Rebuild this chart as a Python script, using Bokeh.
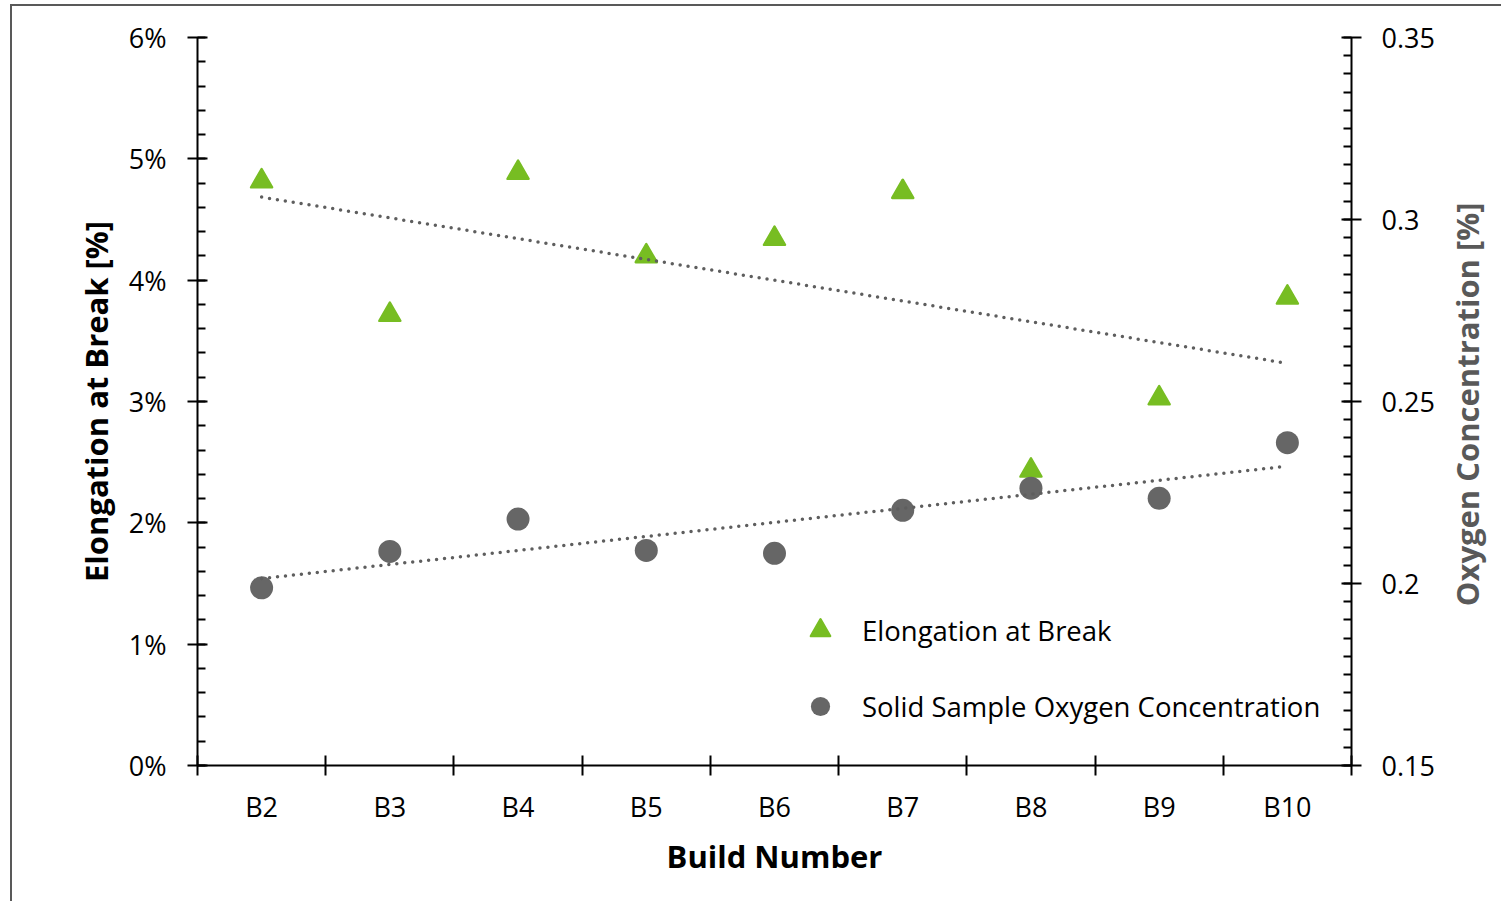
import math
import numpy as np
from bokeh.plotting import figure
from bokeh.layouts import row
from bokeh.models import (Range1d, LinearAxis, FixedTicker, CustomJSTickFormatter,
                          Legend, LegendItem)
from bokeh.core.properties import value
from bokeh.embed import file_html
from bokeh.resources import INLINE

# ---- data ----
builds = ["B2", "B3", "B4", "B5", "B6", "B7", "B8", "B9", "B10"]
elongation_pct = [4.815, 3.715, 4.885, 4.198, 4.341, 4.728, 2.431, 3.027, 3.857]
oxygen_conc = [0.1988, 0.2088, 0.2177, 0.2091, 0.2083, 0.2201, 0.2262, 0.2234, 0.2387]
left_ticks = [0, 1, 2, 3, 4, 5, 6]
right_ticks = [0.15, 0.20, 0.25, 0.30, 0.35]

GREEN = "#77BD22"
GREY = "#666666"
TREND = "#5E5E5E"
FONT = "Open Sans"

xpos = list(range(1, len(builds) + 1))

FRAME_W, FRAME_H = 1154, 728
BL, BR, BT, BB = 185, 92, 31, 136
CANVAS_H = BT + FRAME_H + BB

p = figure(frame_width=FRAME_W, frame_height=FRAME_H,
           x_range=Range1d(0.5, len(builds) + 0.5),
           y_range=Range1d(left_ticks[0], left_ticks[-1]),
           output_backend="svg", toolbar_location=None,
           min_border_left=BL, min_border_right=BR,
           min_border_top=BT, min_border_bottom=BB)
p.extra_y_ranges = {"oxy": Range1d(right_ticks[0], right_ticks[-1])}
p.grid.visible = False
p.outline_line_color = None
p.background_fill_color = "white"
p.border_fill_color = "white"

# ---- x axis ----
xa = p.xaxis[0]
xa.ticker = FixedTicker(ticks=xpos, minor_ticks=[i + 0.5 for i in range(0, len(builds) + 1)])
xa.formatter = CustomJSTickFormatter(args=dict(labels=builds),
                                     code="const i = Math.round(tick) - 1; return (i >= 0 && i < labels.length) ? labels[i] : '';")
xa.major_tick_in = 0
xa.major_tick_out = 0
xa.minor_tick_in = 10
xa.minor_tick_out = 10
xa.minor_tick_line_color = "black"
xa.minor_tick_line_width = 2
xa.axis_line_width = 2
xa.axis_line_color = "black"
xa.major_label_standoff = 12
xa.major_label_text_font = FONT
xa.major_label_text_font_size = "27px"
xa.major_label_text_color = "black"
xa.axis_label = "Build Number"
xa.axis_label_text_font = FONT
xa.axis_label_text_font_size = "31px"
xa.axis_label_text_font_style = "bold"
xa.axis_label_text_color = "black"
xa.axis_label_standoff = 7

# ---- left axis ----
ya = p.yaxis[0]
ya.ticker = FixedTicker(ticks=left_ticks,
                        minor_ticks=list(np.round(np.arange(left_ticks[0], left_ticks[-1] + 1e-9, 0.2), 4)))
ya.formatter = CustomJSTickFormatter(code="return tick.toFixed(0) + '%';")
ya.major_tick_in = 10
ya.major_tick_out = 10
ya.minor_tick_in = 8
ya.minor_tick_out = 0
ya.major_tick_line_width = 2
ya.minor_tick_line_width = 2
ya.major_tick_line_color = "black"
ya.minor_tick_line_color = "black"
ya.axis_line_width = 2
ya.axis_line_color = "black"
ya.major_label_standoff = 21
ya.major_label_text_font = FONT
ya.major_label_text_font_size = "27px"
ya.major_label_text_color = "black"
ya.axis_label = "Elongation at Break [%]"
ya.axis_label_text_font = FONT
ya.axis_label_text_font_size = "31px"
ya.axis_label_text_font_style = "bold"
ya.axis_label_text_color = "black"
ya.axis_label_standoff = 9

# ---- right axis ----
ra = LinearAxis(y_range_name="oxy")
ra.ticker = FixedTicker(ticks=right_ticks,
                        minor_ticks=list(np.round(np.arange(right_ticks[0], right_ticks[-1] + 1e-9, 0.005), 4)))
ra.formatter = CustomJSTickFormatter(code="return String(Math.round(tick * 100) / 100);")
ra.major_tick_in = 10
ra.major_tick_out = 10
ra.minor_tick_in = 8
ra.minor_tick_out = 0
ra.major_tick_line_width = 2
ra.minor_tick_line_width = 2
ra.major_tick_line_color = "black"
ra.minor_tick_line_color = "black"
ra.axis_line_width = 2
ra.axis_line_color = "black"
ra.major_label_standoff = 20
ra.major_label_text_font = FONT
ra.major_label_text_font_size = "27px"
ra.major_label_text_color = "black"
p.add_layout(ra, "right")

# ---- markers ----
tri = p.scatter(xpos, elongation_pct, marker="triangle", size=21,
                fill_color=GREEN, line_color=GREEN, line_width=2.5, line_join="round")
circ = p.scatter(xpos, oxygen_conc, marker="circle", size=23, y_range_name="oxy",
                 fill_color=GREY, line_color=GREY, line_width=0)

# ---- linear trend lines (least squares on the data) ----
xs = np.array([xpos[0], xpos[-1]], dtype=float)
m1, b1 = np.polyfit(xpos, elongation_pct, 1)
m2, b2 = np.polyfit(xpos, oxygen_conc, 1)
p.line(xs, m1 * xs + b1, line_color=TREND, line_width=3.5, line_dash="0 8", line_cap="round")
p.line(xs, m2 * xs + b2, line_color=TREND, line_width=3.5, line_dash="0 8", line_cap="round",
       y_range_name="oxy")

# ---- legend ----
legend = Legend(items=[LegendItem(label="Elongation at Break", renderers=[tri]),
                       LegendItem(label="Solid Sample Oxygen Concentration", renderers=[circ])],
                location=(599, 35), orientation="vertical",
                glyph_width=48, glyph_height=48, label_height=48, spacing=28,
                padding=0, margin=0, label_standoff=18,
                border_line_color=None, background_fill_alpha=0,
                label_text_font=FONT, label_text_font_size="27.5px", label_text_color="black")
p.add_layout(legend, "center")

# ---- right-hand axis title strip (text reads bottom-to-top, like Excel) ----
TITLE_W = 58
pt = figure(width=TITLE_W, height=CANVAS_H, x_range=Range1d(0, TITLE_W), y_range=Range1d(0, CANVAS_H),
            x_axis_type=None, y_axis_type=None, output_backend="svg", toolbar_location=None,
            min_border=0, min_border_left=0, min_border_right=0, min_border_top=0, min_border_bottom=0)
pt.grid.visible = False
pt.outline_line_color = None
pt.background_fill_color = "white"
pt.border_fill_color = "white"
pt.text(x=[23], y=[CANVAS_H - (BT + FRAME_H / 2) - 56], text=["Oxygen Concentration [%]"],
        angle=math.pi / 2, text_align="center", text_baseline="middle",
        text_font=value(FONT), text_font_size="31px", text_font_style="bold",
        text_color="#595959")

layout = row(p, pt, spacing=0)
layout.styles = {"border-left": "2px solid #595959", "border-top": "2px solid #595959",
                 "margin-top": "4px", "margin-left": "10px"}

open("out.html", "w").write(file_html(layout, INLINE))
